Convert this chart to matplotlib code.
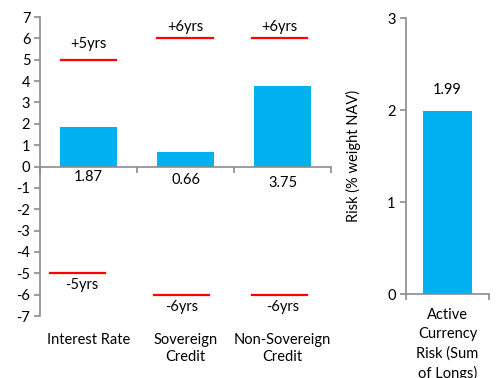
import matplotlib
matplotlib.use("Agg")
import matplotlib.pyplot as plt
import matplotlib.transforms as mtransforms

plt.rcParams['font.family'] = ['Lato', 'DejaVu Sans']
plt.rcParams['font.size'] = 10.5

# Risk positions (% weight NAV / years) by category
categories = ["Interest Rate", "Sovereign\nCredit", "Non-Sovereign\nCredit"]
positions = [1.87, 0.66, 3.75]
upper_limits = [5, 6, 6]
lower_limits = [-5, -6, -6]
upper_labels = ["+5yrs", "+6yrs", "+6yrs"]
lower_labels = ["-5yrs", "-6yrs", "-6yrs"]

fx_category = ["Active\nCurrency\nRisk (Sum\nof Longs)"]
fx_risk = [1.99]

left_ticks = list(range(-7, 8))
right_ticks = [0, 1, 2, 3]

BLUE = "#00B0F0"
RED = "#FF0000"
GREY = "#8C8C8C"

fig = plt.figure(figsize=(4.97, 3.78), dpi=100)

# ---- left panel: duration / spread positions with limits ----
ax = fig.add_axes([0.0805, 0.164, 0.5855, 0.791])
n = len(categories)
centers = [i + 0.5 for i in range(n)]
ax.bar(centers, positions, width=0.59, color=BLUE, zorder=2)

# limit markers (slight horizontal shift of the shapes per category)
up_shift = [0.0, -0.005, -0.03]
lo_shift = [-0.11, -0.04, -0.03]
half = 0.285
for c, u, l, su, sl in zip(centers, upper_limits, lower_limits, up_shift, lo_shift):
    ax.plot([c + su - half, c + su + half], [u, u], color=RED, lw=1.6, zorder=3)
    ax.plot([c + sl - half, c + sl + half], [l, l], color=RED, lw=1.6, zorder=3)

up_text_off = [16, 11, 11]
for c, u, lab, su, off in zip(centers, upper_limits, upper_labels, up_shift, up_text_off):
    ax.annotate(lab, (c + su, u), xytext=(0, off), textcoords='offset pixels',
                ha='center', va='center')
lo_text_x = [0.433, 1.464, 2.50]
for x, l, lab in zip(lo_text_x, lower_limits, lower_labels):
    ax.annotate(lab, (x, l), xytext=(0, -12), textcoords='offset pixels',
                ha='center', va='center')

val_off = [10, 13, 16]
for c, v, off in zip(centers, positions, val_off):
    ax.annotate(f"{v:.2f}", (c, 0), xytext=(0, -off), textcoords='offset pixels',
                ha='center', va='center')

ax.set_xlim(0, n)
ax.set_ylim(-7, 7)
ax.set_yticks(left_ticks)
ax.set_yticklabels([str(t) for t in left_ticks])
ax.set_xticks(range(n + 1))
ax.set_xticklabels([])
ax.spines['top'].set_visible(False)
ax.spines['right'].set_visible(False)
ax.spines['bottom'].set_position(('data', 0))
for s in ('left', 'bottom'):
    ax.spines[s].set_color(GREY)
    ax.spines[s].set_linewidth(1.2)
ax.tick_params(axis='both', color=GREY, length=4, width=1.2)
ax.tick_params(axis='y', pad=3)

trans = mtransforms.blended_transform_factory(ax.transData, fig.transFigure)
for c, lab in zip(centers, categories):
    ax.text(c, 1 - 333 / 378, lab, transform=trans, ha='center', va='top',
            linespacing=1.3)

# ---- right panel: active currency risk ----
ax2 = fig.add_axes([0.817, 0.222, 0.167, 0.730])
ax2.bar([0.5], fx_risk, width=0.59, color=BLUE, zorder=2)
ax2.annotate(f"{fx_risk[0]:.2f}", (0.5, fx_risk[0]), xytext=(0, 21),
             textcoords='offset pixels', ha='center', va='center')
ax2.set_xlim(0, 1)
ax2.set_ylim(0, 3)
ax2.set_yticks(right_ticks)
ax2.set_xticks([0, 1])
ax2.set_xticklabels([])
ax2.spines['top'].set_visible(False)
ax2.spines['right'].set_visible(False)
for s in ('left', 'bottom'):
    ax2.spines[s].set_color(GREY)
    ax2.spines[s].set_linewidth(1.2)
ax2.tick_params(axis='both', color=GREY, length=4, width=1.2)
ax2.set_ylabel("Risk (% weight NAV)", labelpad=19)
trans2 = mtransforms.blended_transform_factory(ax2.transAxes, fig.transFigure)
ax2.text(0.5, 1 - 308 / 378, fx_category[0], transform=trans2,
         ha='center', va='top', linespacing=1.45)

fig.savefig("out.png", dpi=100)
